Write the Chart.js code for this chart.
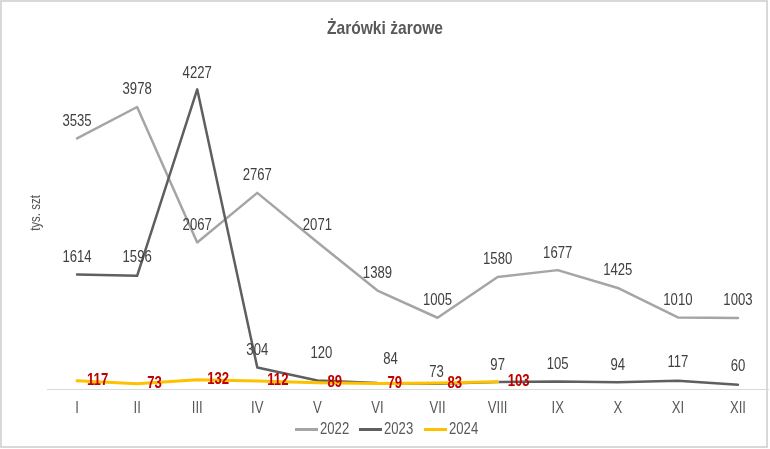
<!DOCTYPE html>
<html><head><meta charset="utf-8">
<script src="https://cdn.jsdelivr.net/npm/chart.js@4.4.1/dist/chart.umd.min.js"></script>
<style>html,body{margin:0;padding:0;background:#fff}#wrap{width:770px;height:449px;position:relative}canvas{display:block}</style>
</head><body><div id="wrap"><canvas id="c" width="770" height="449"></canvas></div>
<script>
const categories = ['I','II','III','IV','V','VI','VII','VIII','IX','X','XI','XII'];
const seriesNames = ['2022','2023','2024'];
const values2022 = [3535,3978,2067,2767,2071,1389,1005,1580,1677,1425,1010,1003];
const values2023 = [1614,1596,4227,304,120,84,73,97,105,94,117,60];
const values2024 = [117,73,132,112,89,79,83,103,null,null,null,null];
const chartTitle = 'Żarówki żarowe';
const yAxisTitle = 'tys. szt';

// label placement (pixel offsets from point), kept apart from data
const labelOffsets2023 = [[0,-17],[0,-18],[0,-16],[0,-17],[4,-27],[13,-23],[-1,-11],[0,-17],[0,-17],[0,-17],[0,-18],[0,-18]];

const FONT = '"Liberation Sans", Arial, sans-serif';
const NARROW = 0.82;
const colors = ['#A5A5A5', '#5F5F5F', '#FFC000'];

function narrowText(ctx, text, x, y, align) {
  ctx.save();
  ctx.translate(x, y);
  ctx.scale(NARROW, 1);
  ctx.textAlign = align || 'center';
  ctx.fillText(text, 0, 0);
  ctx.restore();
}

const overlay = {
  id: 'overlay',
  afterDatasetsDraw(chart) {
    const ctx = chart.ctx;
    ctx.save();
    ctx.textBaseline = 'middle';
    ctx.font = '16px ' + FONT;
    ctx.fillStyle = '#404040';
    let meta = chart.getDatasetMeta(0);
    meta.data.forEach((p, j) => {
      if (values2022[j] == null) return;
      narrowText(ctx, String(values2022[j]), p.x, p.y - 17, 'center');
    });
    meta = chart.getDatasetMeta(1);
    meta.data.forEach((p, j) => {
      if (values2023[j] == null) return;
      const o = labelOffsets2023[j];
      narrowText(ctx, String(values2023[j]), p.x + o[0], p.y + o[1], 'center');
    });
    meta = chart.getDatasetMeta(2);
    ctx.font = 'bold 16px ' + FONT;
    ctx.fillStyle = '#C00000';
    meta.data.forEach((p, j) => {
      if (values2024[j] == null) return;
      narrowText(ctx, String(values2024[j]), p.x + 10, p.y, 'left');
    });
    ctx.restore();
  },
  afterDraw(chart) {
    const ctx = chart.ctx;
    const xs = chart.scales.x;
    ctx.save();
    ctx.textBaseline = 'middle';
    ctx.fillStyle = '#595959';
    // category labels
    ctx.font = '16px ' + FONT;
    categories.forEach((c, i) => {
      narrowText(ctx, c, xs.getPixelForValue(i), chart.chartArea.bottom + 20, 'center');
    });
    // title
    ctx.font = 'bold 19px ' + FONT;
    narrowText(ctx, chartTitle, 385, 29, 'center');
    // y axis title
    ctx.save();
    ctx.translate(36, 213);
    ctx.rotate(-Math.PI / 2);
    ctx.font = '14px ' + FONT;
    narrowText(ctx, yAxisTitle, 0, 0, 'center');
    ctx.restore();
    // legend
    ctx.font = '16px ' + FONT;
    const lx = [295, 359, 424];
    seriesNames.forEach((n, i) => {
      ctx.strokeStyle = colors[i];
      ctx.lineWidth = 3;
      ctx.beginPath();
      ctx.moveTo(lx[i], 429.5);
      ctx.lineTo(lx[i] + 23, 429.5);
      ctx.stroke();
      ctx.fillStyle = '#595959';
      narrowText(ctx, n, lx[i] + 25, 430, 'left');
    });
    // border
    ctx.strokeStyle = '#D9D9D9';
    ctx.lineWidth = 2;
    ctx.strokeRect(1, 1, 766, 446);
    ctx.restore();
  }
};

new Chart(document.getElementById('c'), {
  type: 'line',
  data: {
    labels: categories,
    datasets: [
      { label: seriesNames[0], data: values2022, borderColor: colors[0], borderWidth: 2.5, order: 2 },
      { label: seriesNames[1], data: values2023, borderColor: colors[1], borderWidth: 2.5, order: 1 },
      { label: seriesNames[2], data: values2024, borderColor: colors[2], borderWidth: 3, order: 0 }
    ]
  },
  options: {
    responsive: false,
    animation: false,
    devicePixelRatio: 1,
    layout: { padding: { top: 70, left: 47, right: 2, bottom: 60 } },
    elements: {
      point: { radius: 0, hoverRadius: 0 },
      line: { tension: 0, fill: false, borderCapStyle: 'round', borderJoinStyle: 'round' }
    },
    plugins: { legend: { display: false }, title: { display: false }, tooltip: { enabled: false } },
    scales: {
      x: {
        offset: true,
        grid: { display: false, drawTicks: false },
        border: { display: true, color: '#D9D9D9', width: 1 },
        ticks: { display: false }
      },
      y: { display: false, min: 0, max: 4500 }
    }
  },
  plugins: [overlay]
});
</script>
</body></html>
